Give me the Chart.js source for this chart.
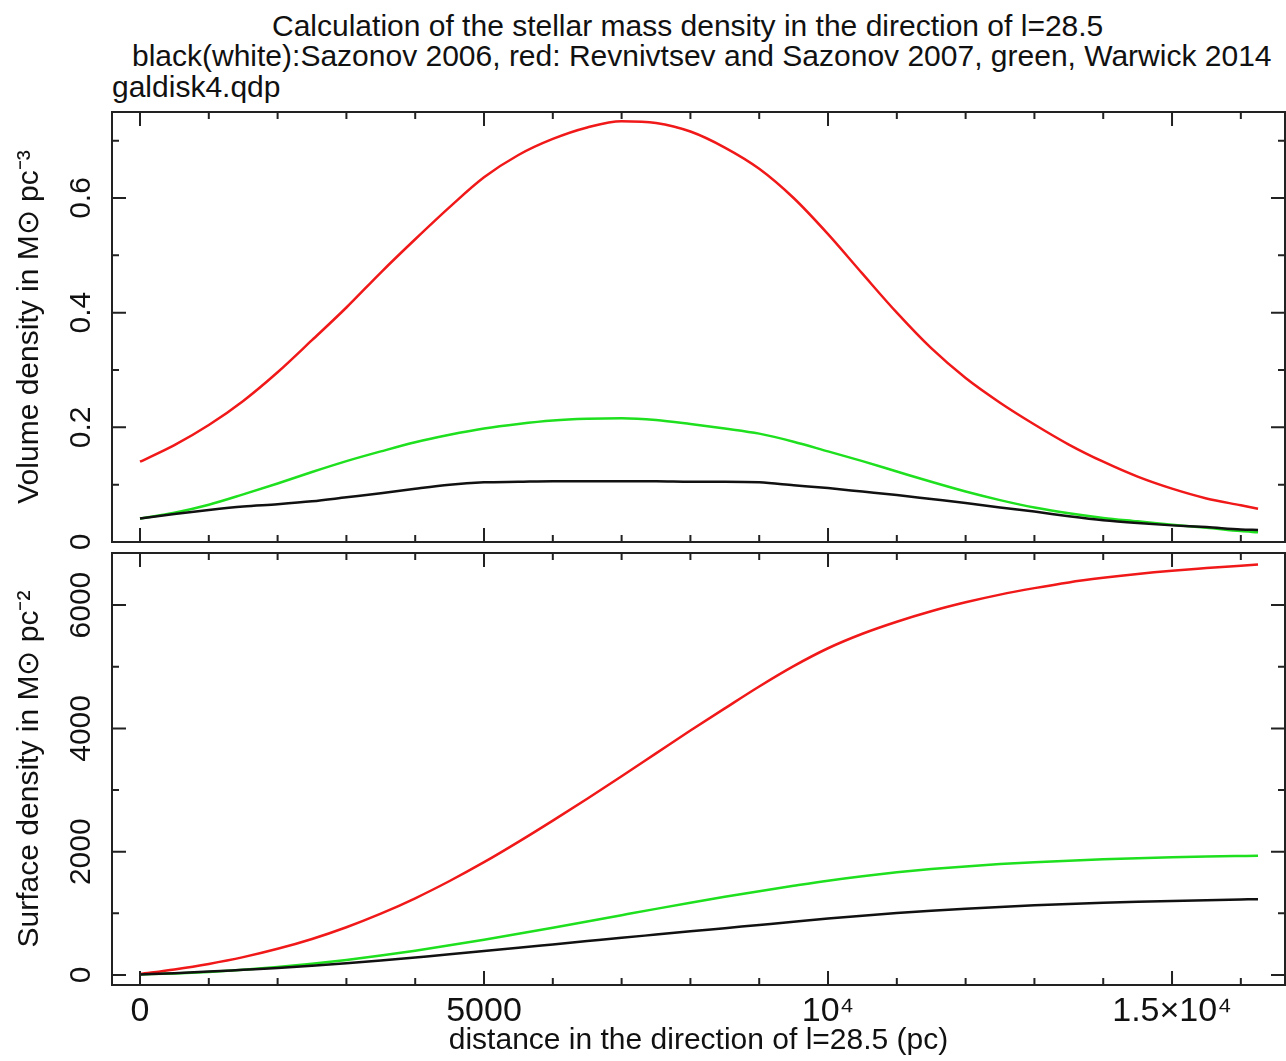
<!DOCTYPE html>
<html>
<head>
<meta charset="utf-8">
<script src="https://cdn.jsdelivr.net/npm/chart.js@4.4.1/dist/chart.umd.min.js"></script>
<style>
  html, body { margin: 0; padding: 0; background: #ffffff; }
  body { width: 1286px; height: 1061px; position: relative; overflow: hidden;
         font-family: "Liberation Sans", Arial, sans-serif; color: #111; }
  .ttl { position: absolute; white-space: nowrap; font-size: 30px; line-height: 30px; }
  canvas { position: absolute; left: 0; }
</style>
</head>
<body>
<div class="ttl" id="t1" style="left:272px; top:11px;">Calculation of the stellar mass density in the direction of l=28.5</div>
<div class="ttl" id="t2" style="left:132px; top:41px;">black(white):Sazonov 2006, red: Revnivtsev and Sazonov 2007, green, Warwick 2014</div>
<div class="ttl" id="t3" style="left:112px; top:72px;">galdisk4.qdp</div>
<canvas id="top" width="1286" height="460" style="top:100px; width:1286px; height:460px;"></canvas>
<canvas id="bot" width="1286" height="516" style="top:545px; width:1286px; height:516px;"></canvas>
<script>
// ---- data ----
const distance = [0,500,1000,1500,2000,2500,3000,3500,4000,4500,5000,5500,6000,6500,7000,7500,8000,
                  8500,9000,9500,10000,10500,11000,11500,12000,12500,13000,13500,14000,14500,15000,15500,16000,16250];

// volume density (Msun pc^-3)
const volBlack = [0.041,0.049,0.056,0.062,0.066,0.071,0.078,0.085,0.093,0.100,0.104,0.105,0.106,0.106,0.106,0.106,0.105,
                  0.105,0.104,0.099,0.094,0.088,0.082,0.075,0.068,0.060,0.053,0.045,0.038,0.033,0.029,0.026,0.022,0.021];
const volRed   = [0.140,0.169,0.204,0.246,0.296,0.352,0.409,0.470,0.528,0.584,0.636,0.675,0.703,0.723,0.734,0.731,0.716,
                  0.688,0.651,0.600,0.537,0.468,0.400,0.338,0.286,0.243,0.205,0.170,0.140,0.114,0.093,0.076,0.064,0.058];
const volGreen = [0.041,0.051,0.065,0.083,0.102,0.122,0.141,0.158,0.174,0.187,0.198,0.206,0.212,0.215,0.216,0.213,0.206,
                  0.198,0.189,0.175,0.158,0.141,0.123,0.105,0.088,0.073,0.060,0.050,0.042,0.036,0.030,0.025,0.019,0.017];

// surface density (Msun pc^-2)
const surfBlack = [10,30,55,85,115,150,190,235,285,335,390,442,496,550,604,656,708,
                   760,812,864,915,962,1004,1042,1076,1105,1130,1152,1171,1188,1202,1214,1225,1230];
const surfRed   = [15,90,180,290,425,585,775,995,1245,1525,1830,2160,2505,2860,3225,3595,3965,
                   4325,4680,5010,5300,5535,5730,5900,6045,6170,6275,6368,6442,6506,6558,6600,6640,6660];
const surfGreen = [10,25,50,85,129,182,245,316,395,481,572,668,767,868,971,1073,1172,
                   1268,1360,1447,1530,1602,1665,1718,1762,1799,1830,1855,1876,1894,1909,1922,1931,1935];

// tick positions and labels
const xTickValues = [0,1000,2000,3000,4000,5000,6000,7000,8000,9000,10000,11000,12000,13000,14000,15000,16000];
const xTickLabels = {0: '0', 5000: '5000', 10000: '10\u2074', 15000: '1.5\u00d710\u2074'};
const volTickValues = [0,0.1,0.2,0.3,0.4,0.5,0.6,0.7];
const volTickLabels = {0: '0', 0.2: '0.2', 0.4: '0.4', 0.6: '0.6'};
const surfTickValues = [0,1000,2000,3000,4000,5000,6000];
const surfTickLabels = {0: '0', 2000: '2000', 4000: '4000', 6000: '6000'};

const seriesColors = {black: '#111111', red: '#f01818', green: '#1ee01e'};
const FONT = '"Liberation Sans", Arial, sans-serif';

function pts(ys) { return distance.map((d, i) => ({x: d, y: ys[i]})); }

function lookup(table, v) {
  for (const k of Object.keys(table)) {
    if (Math.abs(Number(k) - v) < 1e-6 * Math.max(1, Math.abs(v))) return table[k];
  }
  return '';
}

function noPad(s) { s.paddingTop = 0; s.paddingBottom = 0; s.paddingLeft = 0; s.paddingRight = 0; }

const frameTicks = {
  id: 'frameTicks',
  afterDatasetsDraw(chart, args, o) {
    const {ctx, chartArea: a, scales} = chart;
    ctx.save();
    ctx.strokeStyle = '#222';
    ctx.lineWidth = 2;
    ctx.beginPath();
    const xs = scales.x, ys = scales.y;
    xs.ticks.forEach(t => {
      const p = xs.getPixelForValue(t.value);
      if (p < a.left + 1 || p > a.right - 1) return;
      const major = Math.abs(t.value / o.xMajor - Math.round(t.value / o.xMajor)) < 1e-6;
      const L = major ? 14 : 7;
      ctx.moveTo(p, a.bottom); ctx.lineTo(p, a.bottom - L);
      ctx.moveTo(p, a.top); ctx.lineTo(p, a.top + L);
    });
    ys.ticks.forEach(t => {
      const p = ys.getPixelForValue(t.value);
      if (p < a.top + 1 || p > a.bottom - 1) return;
      const major = Math.abs(t.value / o.yMajor - Math.round(t.value / o.yMajor)) < 1e-6;
      const L = major ? 14 : 7;
      ctx.moveTo(a.left, p); ctx.lineTo(a.left + L, p);
      ctx.moveTo(a.right, p); ctx.lineTo(a.right - L, p);
    });
    ctx.stroke();
    ctx.strokeRect(a.left, a.top, a.right - a.left, a.bottom - a.top);
    ctx.restore();
  }
};

function datasets(b, r, g) {
  const common = {pointRadius: 0, borderWidth: 2.5, cubicInterpolationMode: 'monotone', fill: false};
  return [
    Object.assign({label: 'Sazonov 2006', data: pts(b), borderColor: seriesColors.black}, common),
    Object.assign({label: 'Revnivtsev and Sazonov 2007', data: pts(r), borderColor: seriesColors.red}, common),
    Object.assign({label: 'Warwick 2014', data: pts(g), borderColor: seriesColors.green}, common)
  ];
}

function makeChart(id, cfg) {
  return new Chart(document.getElementById(id), {
    type: 'line',
    data: {datasets: datasets(cfg.b, cfg.r, cfg.g)},
    plugins: [frameTicks],
    options: {
      responsive: false, animation: false, devicePixelRatio: 1,
      layout: {autoPadding: false, padding: {top: cfg.padTop, right: 1, left: 0, bottom: 0}},
      plugins: {legend: {display: false}, tooltip: {enabled: false}, title: {display: false},
                frameTicks: {xMajor: 5000, yMajor: cfg.yMajor}},
      scales: {
        x: {
          type: 'linear', min: -407, max: 16642,
          grid: {display: false, drawTicks: false}, border: {display: false},
          afterBuildTicks: s => { s.ticks = xTickValues.map(v => ({value: v})); },
          ticks: {display: cfg.showX, autoSkip: false,
                  maxRotation: 0, minRotation: 0, padding: 6, color: '#111',
                  font: {family: FONT, size: 34},
                  callback: v => lookup(xTickLabels, v)},
          title: {display: cfg.showX, text: 'distance in the direction of l=28.5 (pc)', color: '#111',
                  font: {family: FONT, size: 30}, padding: {top: 0, bottom: 2}},
          afterFit: s => { s.height = cfg.xHeight; noPad(s); }
        },
        y: {
          type: 'linear', min: cfg.yMin, max: cfg.yMax,
          grid: {display: false, drawTicks: false}, border: {display: false},
          afterBuildTicks: s => { s.ticks = cfg.yTicks.map(v => ({value: v})); },
          ticks: {autoSkip: false,
                  minRotation: 90, maxRotation: 90, crossAlign: 'center', padding: cfg.yPad,
                  color: '#111', font: {family: FONT, size: 30},
                  callback: v => lookup(cfg.yLabels, v)},
          title: {display: true, text: cfg.yTitle, color: '#111',
                  font: {family: FONT, size: 30}, padding: {top: 12, bottom: 0}},
          afterFit: s => { s.width = 112; noPad(s); }
        }
      }
    }
  });
}

makeChart('top', {
  b: volBlack, r: volRed, g: volGreen,
  yMin: 0, yMax: 0.75, yTicks: volTickValues, yMajor: 0.2, yLabels: volTickLabels, yPad: 9,
  yTitle: 'Volume density in M\u2299 pc\u207b\u00b3',
  showX: false, xHeight: 18, padTop: 12
});
makeChart('bot', {
  b: surfBlack, r: surfRed, g: surfGreen,
  yMin: -162, yMax: 6845, yTicks: surfTickValues, yMajor: 2000, yLabels: surfTickLabels, yPad: -3,
  yTitle: 'Surface density in M\u2299 pc\u207b\u00b2',
  showX: true, xHeight: 76, padTop: 8
});
</script>
</body>
</html>
